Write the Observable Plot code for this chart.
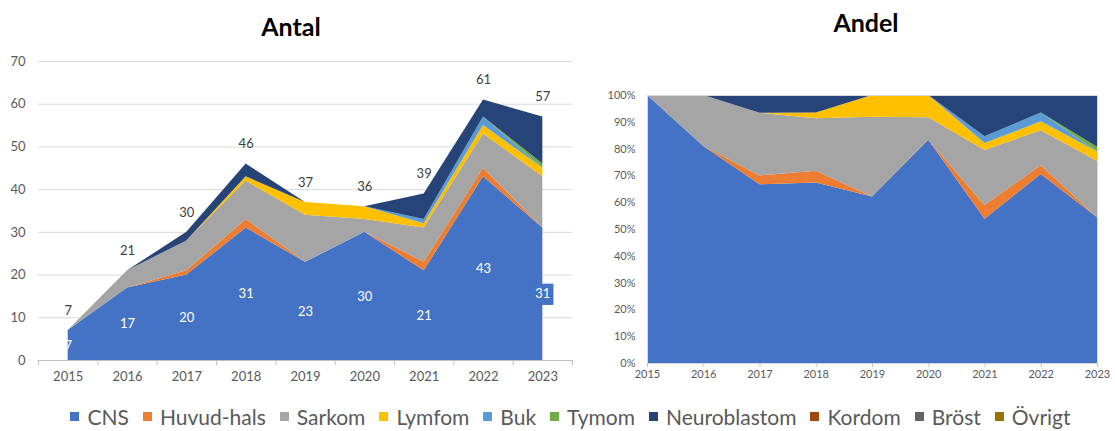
<!DOCTYPE html>
<html>
<head>
<meta charset="utf-8">
<script src="https://cdn.jsdelivr.net/npm/d3@7"></script>
<script src="https://cdn.jsdelivr.net/npm/@observablehq/plot@0.6"></script>
<style>
  body { margin: 0; background: #fff; font-family: Lato, "Open Sans", sans-serif; }
  #wrap { position: relative; width: 1115px; height: 431px; overflow: hidden; }
  .title { position: absolute; font-weight: bold; font-size: 25px; color: #000; transform: translate(-50%, -50%); white-space: nowrap; }
  #left { position: absolute; left: 0; top: 0; }
  #right { position: absolute; left: 590px; top: 0; }
  #legend { position: absolute; left: 13px; top: 404px; width: 1115px; display: flex; justify-content: center; align-items: center; font-size: 21px; color: #595959; white-space: nowrap; }
  .item { display: flex; align-items: center; margin: 0 7px; }
  .sw { width: 9px; height: 9px; margin-right: 8px; }
</style>
</head>
<body>
<div id="wrap">
  <div class="title" style="left:291px;top:26px">Antal</div>
  <div class="title" style="left:866px;top:22px">Andel</div>
  <div id="left"></div>
  <div id="right"></div>
  <div id="legend"></div>
</div>
<script>
// Years and tumour groups
const years = [2015, 2016, 2017, 2018, 2019, 2020, 2021, 2022, 2023];
const series = ["CNS", "Huvud-hals", "Sarkom", "Lymfom", "Buk", "Tymom", "Neuroblastom", "Kordom", "Bröst", "Övrigt"];
const colors = ["#4472C4", "#ED7D31", "#A5A5A5", "#FFC000", "#5B9BD5", "#70AD47", "#264478", "#9E480E", "#636363", "#997300"];

// Number of cases per year for each group
const cns          = [7, 17, 20, 31, 23, 30, 21, 43, 31];
const huvudHals    = [0, 0, 1, 2, 0, 0, 2, 2, 0];
const sarkom       = [0, 4, 7, 9, 11, 3, 8, 8, 12];
const lymfom       = [0, 0, 0, 1, 3, 3, 1, 2, 2];
const buk          = [0, 0, 0, 0, 0, 0, 1, 2, 0];
const tymom        = [0, 0, 0, 0, 0, 0, 0, 0, 1];
const neuroblastom = [0, 0, 2, 3, 0, 0, 6, 4, 11];
const kordom       = [0, 0, 0, 0, 0, 0, 0, 0, 0];
const brost        = [0, 0, 0, 0, 0, 0, 0, 0, 0];
const ovrigt       = [0, 0, 0, 0, 0, 0, 0, 0, 0];

const yTicksCount = [0, 10, 20, 30, 40, 50, 60, 70];
const yTicksShare = [0, 0.1, 0.2, 0.3, 0.4, 0.5, 0.6, 0.7, 0.8, 0.9, 1];

const valuesBySeries = [cns, huvudHals, sarkom, lymfom, buk, tymom, neuroblastom, kordom, brost, ovrigt];

// Long-format table: one row per year and group
const rows = [];
series.forEach((s, i) => {
  years.forEach((yr, j) => rows.push({ year: yr, series: s, value: valuesBySeries[i][j] }));
});

const totals = years.map((yr, j) => ({ year: yr, total: d3.sum(valuesBySeries, v => v[j]) }));
const cnsRows = years.map((yr, j) => ({ year: yr, value: cns[j] }));

// Category boundaries for the tick marks of the count chart
const bounds = years.map(y => y - 0.5).concat([years[years.length - 1] + 0.5]);

const font = "Lato, 'Open Sans', sans-serif";
const colorScale = { domain: series, range: colors };

const left = Plot.plot({
  width: 590, height: 390,
  marginTop: 61, marginBottom: 30, marginLeft: 38, marginRight: 18,
  style: { fontFamily: font, fontSize: "13px", color: "#595959", background: "transparent" },
  x: { type: "linear", domain: [bounds[0], bounds[bounds.length - 1]] },
  y: { domain: [0, 70] },
  color: colorScale,
  marks: [
    Plot.gridY(yTicksCount, { stroke: "#d9d9d9", strokeOpacity: 1 }),
    Plot.areaY(rows, { x: "year", y: "value", fill: "series", z: "series", order: series }),
    Plot.ruleY([0], { stroke: "#bfbfbf" }),
    Plot.axisY({ ticks: yTicksCount, tickSize: 0, tickPadding: 13, label: null, fontSize: 13 }),
    Plot.axisX({ ticks: bounds, tickSize: 5, tickFormat: () => "", stroke: "#bfbfbf", label: null }),
    Plot.axisX({ ticks: years, tickSize: 0, tickPadding: 11, tickFormat: d => String(d), label: null }),
    Plot.dot(cnsRows.filter(d => d.year === years[years.length - 1]), {
      x: "year", y: d => d.value / 2, symbol: "square", r: 12, fill: colors[0]
    }),
    Plot.text(cnsRows, { x: "year", y: d => d.value / 2, text: d => String(d.value), fill: "white", fontSize: 13 }),
    Plot.text(totals, { x: "year", y: "total", text: d => String(d.total), fill: "#404040", fontSize: 13, dy: -20 })
  ]
});
document.getElementById("left").append(left);

const right = Plot.plot({
  width: 525, height: 390,
  marginTop: 95, marginBottom: 27, marginLeft: 57, marginRight: 18,
  style: { fontFamily: font, fontSize: "11px", color: "#595959", background: "transparent" },
  x: { type: "linear", domain: [years[0], years[years.length - 1]] },
  y: { domain: [0, 1] },
  color: colorScale,
  marks: [
    Plot.areaY(rows, { x: "year", y: "value", fill: "series", z: "series", order: series, offset: "normalize" }),
    Plot.frame({ stroke: "#d9d9d9" }),
    Plot.axisY({ ticks: yTicksShare, tickSize: 0, tickPadding: 12, tickFormat: d3.format(".0%"), label: null }),
    Plot.axisX({ ticks: years, tickSize: 4, tickPadding: 3, stroke: "#bfbfbf", tickFormat: d => String(d), label: null })
  ]
});
document.getElementById("right").append(right);

// Legend row under both charts
const legend = document.getElementById("legend");
series.forEach((s, i) => {
  const item = document.createElement("div");
  item.className = "item";
  const sw = document.createElement("span");
  sw.className = "sw";
  sw.style.background = colors[i];
  const label = document.createElement("span");
  label.textContent = s;
  item.append(sw, label);
  legend.append(item);
});
</script>
</body>
</html>
